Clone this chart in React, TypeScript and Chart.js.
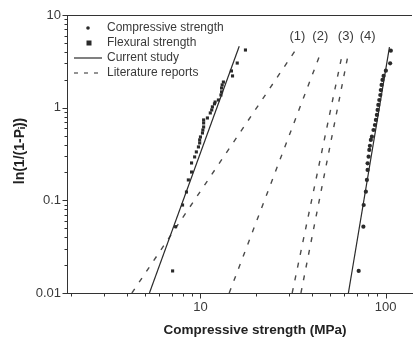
import React, { useEffect, useRef } from 'react';
import { Chart, registerables } from 'chart.js';

Chart.register(...registerables);

// ---- data ----
const flexuralX = [17.5, 15.8, 14.7, 14.9, 13.3, 13.1, 13.0, 13.0, 12.9, 12.5, 12.0, 11.9, 11.6, 11.5, 11.3, 10.9, 10.4, 10.4, 10.4, 10.3, 10.25, 10.0, 9.9, 9.9, 9.75, 9.5, 9.3, 8.95, 8.95, 8.6, 8.4, 8.0, 7.34, 7.07];
const flexuralY = [4.19, 3.03, 2.49, 2.2, 1.89, 1.76, 1.63, 1.48, 1.37, 1.21, 1.15, 1.1, 1.02, 0.945, 0.877, 0.774, 0.737, 0.684, 0.619, 0.574, 0.533, 0.483, 0.449, 0.416, 0.377, 0.333, 0.294, 0.253, 0.202, 0.166, 0.123, 0.089, 0.052, 0.0173];

const compressiveX = [106.8, 105.9, 100.4, 97.6, 96.3, 95.2, 94.3, 93.7, 92.5, 91.4, 90.6, 89.8, 88.7, 87.6, 86.1, 84.4, 83.3, 82.3, 81.7, 81.0, 80.0, 80.0, 79.3, 78.3, 76.2, 75.9, 71.6];
const compressiveY = [4.12, 3.01, 2.51, 2.2, 1.99, 1.76, 1.55, 1.37, 1.21, 1.07, 0.945, 0.834, 0.737, 0.65, 0.574, 0.486, 0.449, 0.387, 0.35, 0.296, 0.251, 0.213, 0.166, 0.124, 0.089, 0.052, 0.0173];

const currentFlexX = [5.3, 16.2];
const currentFlexY = [0.01, 4.6];
const currentCompX = [63, 105];
const currentCompY = [0.01, 4.5];

const literatureNames = ['(1)', '(2)', '(3)', '(4)'];
const literatureX = [[4.26, 32.4], [14.3, 44.8], [31.3, 58.7], [34.9, 63.2]];
const literatureY = [[0.01, 4.09], [0.01, 3.99], [0.01, 3.99], [0.01, 3.99]];
const literatureLabelX = [33.4, 44.4, 61.0, 80.0];
const literatureLabelY = 5.9;

const xMajorTicks = [10, 100];
const xMajorLabels = ['10', '100'];
const xMinorTicks = [2, 3, 4, 5, 6, 7, 8, 9, 20, 30, 40, 50, 60, 70, 80, 90];
const yMajorTicks = [0.01, 0.1, 1, 10];
const yMajorLabels = ['0.01', '0.1', '1', '10'];
const yMinorTicks = [0.02, 0.03, 0.04, 0.05, 0.06, 0.07, 0.08, 0.09, 0.2, 0.3, 0.4, 0.5, 0.6, 0.7, 0.8, 0.9, 2, 3, 4, 5, 6, 7, 8, 9];

const legendLabels = ['Compressive strength', 'Flexural strength', 'Current study', 'Literature reports'];
const xTitle = 'Compressive strength (MPa)';
const yTitle = 'ln(1/(1-P\u1D62))';

const FONT = '"Liberation Sans", Arial, Helvetica, sans-serif';
const INK = '#2a2a2a';
const TEXT = '#3a3a3a';

const pts = (xs: number[], ys: number[]) => xs.map((x, i) => ({ x, y: ys[i] }));

const decor = {
  id: 'decor',
  afterDraw(chart: any) {
    const { ctx, chartArea: a, scales } = chart;
    const xs = scales.x;
    const ys = scales.y;
    ctx.save();
    ctx.strokeStyle = '#333';
    ctx.lineWidth = 1;
    // top frame
    ctx.beginPath();
    ctx.moveTo(a.left, Math.round(a.top) + 0.5);
    ctx.lineTo(a.right, Math.round(a.top) + 0.5);
    ctx.stroke();
    // x ticks
    const xb = Math.round(a.bottom) + 0.5;
    const drawXT = (v: number, len: number) => {
      const px = Math.round(xs.getPixelForValue(v)) + 0.5;
      ctx.beginPath();
      ctx.moveTo(px, xb);
      ctx.lineTo(px, xb + len);
      ctx.stroke();
    };
    xMajorTicks.forEach((v) => drawXT(v, 5));
    xMinorTicks.forEach((v) => drawXT(v, 3));
    // y ticks
    const yl = Math.round(a.left) + 0.5;
    const drawYT = (v: number, len: number) => {
      const py = Math.round(ys.getPixelForValue(v)) + 0.5;
      ctx.beginPath();
      ctx.moveTo(yl, py);
      ctx.lineTo(yl - len, py);
      ctx.stroke();
    };
    yMajorTicks.forEach((v) => drawYT(v, 5));
    yMinorTicks.forEach((v) => drawYT(v, 3));

    // legend
    ctx.font = `12px ${FONT}`;
    ctx.textBaseline = 'middle';
    ctx.textAlign = 'left';
    ctx.fillStyle = TEXT;
    const rows = [28, 43, 58, 73];
    const tx = 107;
    ctx.fillStyle = INK;
    ctx.beginPath();
    ctx.arc(88, rows[0], 1.8, 0, Math.PI * 2);
    ctx.fill();
    ctx.fillRect(86.5, rows[1] - 2.5, 5, 5);
    ctx.strokeStyle = INK;
    ctx.lineWidth = 1.2;
    ctx.beginPath();
    ctx.moveTo(74, rows[2]);
    ctx.lineTo(102, rows[2]);
    ctx.stroke();
    ctx.setLineDash([4, 6]);
    ctx.beginPath();
    ctx.moveTo(74, rows[3]);
    ctx.lineTo(102, rows[3]);
    ctx.stroke();
    ctx.setLineDash([]);
    ctx.fillStyle = TEXT;
    legendLabels.forEach((t, i) => ctx.fillText(t, tx, rows[i]));

    // literature labels
    ctx.font = `13px ${FONT}`;
    ctx.textAlign = 'center';
    literatureNames.forEach((t, i) => {
      ctx.fillText(t, xs.getPixelForValue(literatureLabelX[i]), ys.getPixelForValue(literatureLabelY));
    });

    // axis titles
    ctx.font = `bold 13.5px ${FONT}`;
    ctx.fillStyle = '#222';
    ctx.textAlign = 'center';
    ctx.fillText(xTitle, 255, 330);
    ctx.save();
    ctx.translate(20, 151);
    ctx.rotate(-Math.PI / 2);
    ctx.font = `bold 14px ${FONT}`;
    ctx.fillText(yTitle, 0, 0);
    ctx.restore();

    ctx.restore();
  },
};

export default function App() {
  const ref = useRef<HTMLCanvasElement>(null);
  useEffect(() => {
    const canvas = ref.current!;
    const solid = { type: 'line', borderColor: INK, borderWidth: 1.2, pointRadius: 0, showLine: true, fill: false };
    const dashed = { type: 'line', borderColor: '#4a4a4a', borderWidth: 1.4, borderDash: [5, 8], pointRadius: 0, showLine: true, fill: false };
    const datasets: any[] = [
      { type: 'scatter', label: legendLabels[1], data: pts(flexuralX, flexuralY), pointStyle: 'rect', pointRadius: 2.2, backgroundColor: INK, borderColor: INK, borderWidth: 0 },
      { type: 'scatter', label: legendLabels[0], data: pts(compressiveX, compressiveY), pointStyle: 'circle', pointRadius: 2.1, backgroundColor: INK, borderColor: INK, borderWidth: 0 },
      { ...solid, label: legendLabels[2], data: pts(currentFlexX, currentFlexY) },
      { ...solid, label: legendLabels[2], data: pts(currentCompX, currentCompY) },
      ...literatureNames.map((n, i) => ({ ...dashed, label: n, data: pts(literatureX[i], literatureY[i]) })),
    ];
    const tickFont = { family: FONT, size: 13 };
    const chart = new Chart(canvas, {
      type: 'scatter',
      data: { datasets },
      options: {
        responsive: false,
        animation: false,
        layout: { padding: { top: 15, left: 0, right: 0, bottom: 0 } },
        plugins: { legend: { display: false }, tooltip: { enabled: false } },
        scales: {
          x: {
            type: 'logarithmic',
            min: 1.9,
            max: 139,
            border: { display: true, color: '#333', width: 1 },
            grid: { display: false, drawTicks: false },
            ticks: {
              padding: 7,
              color: TEXT,
              font: tickFont,
              autoSkip: false,
              maxRotation: 0,
              callback: (_v: any, i: number) => xMajorLabels[i],
            },
            afterBuildTicks: (s: any) => {
              s.ticks = xMajorTicks.map((v) => ({ value: v }));
            },
            afterFit: (s: any) => {
              s.height = 46;
            },
          },
          y: {
            type: 'logarithmic',
            min: 0.01,
            max: 10,
            border: { display: true, color: '#333', width: 1 },
            grid: { display: false, drawTicks: false },
            ticks: {
              padding: 6,
              color: TEXT,
              font: tickFont,
              autoSkip: false,
              callback: (_v: any, i: number) => yMajorLabels[i],
            },
            afterBuildTicks: (s: any) => {
              s.ticks = yMajorTicks.map((v) => ({ value: v }));
            },
            afterFit: (s: any) => {
              s.width = 67;
            },
          },
        },
      } as any,
      plugins: [decor],
    } as any);
    return () => chart.destroy();
  }, []);
  return (
    <div style={{ position: 'fixed', left: 0, top: 0, width: 416, height: 339, background: '#fff' }}>
      <canvas ref={ref} width={416} height={339} style={{ width: 416, height: 339, display: 'block' }} />
    </div>
  );
}
